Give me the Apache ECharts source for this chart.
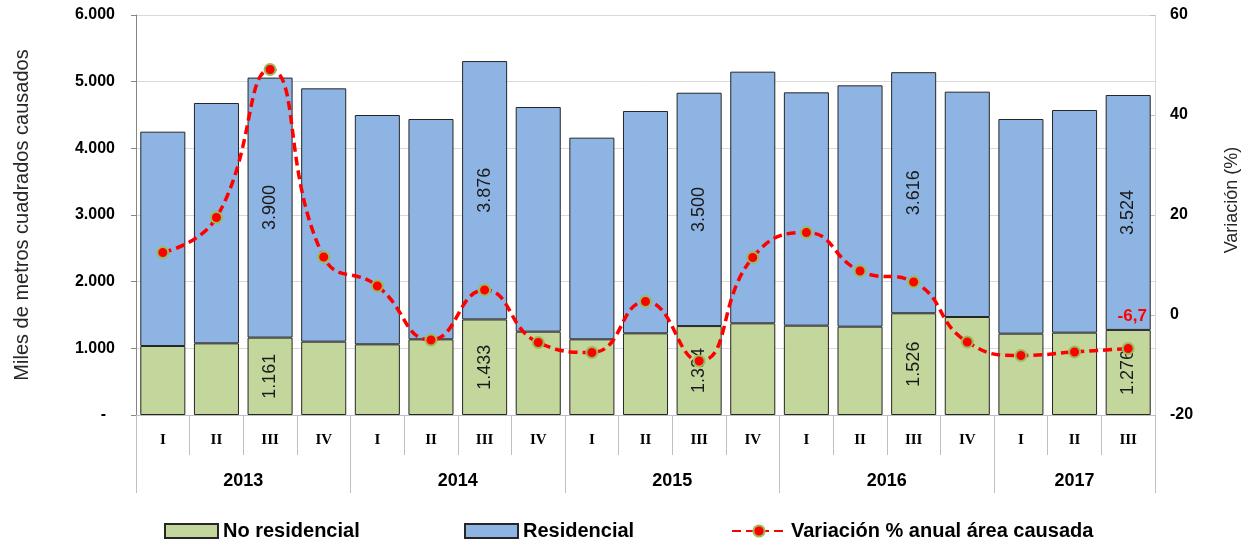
<!DOCTYPE html>
<html>
<head>
<meta charset="utf-8">
<title>Área causada</title>
<script src="https://cdn.jsdelivr.net/npm/echarts@6/dist/echarts.min.js"></script>
<style>
  html, body { margin: 0; padding: 0; background: #fff; }
  #chart { width: 1242px; height: 544px; }
</style>
</head>
<body>
<div id="chart"></div>
<script>
  // categorias (trimestres) y años
  var quarters = ['I', 'II', 'III', 'IV', 'I', 'II', 'III', 'IV', 'I', 'II', 'III', 'IV', 'I', 'II', 'III', 'IV', 'I', 'II', 'III']
  var years = ['2013', '2014', '2015', '2016', '2017']
  var quartersPerYear = [4, 4, 4, 4, 3]

  // miles de m2
  var noResidencial = [1035, 1075, 1161, 1100, 1060, 1135, 1433, 1250, 1135, 1225, 1334, 1375, 1340, 1325, 1526, 1470, 1220, 1235, 1276]
  var residencial = [3215, 3605, 3900, 3800, 3440, 3305, 3876, 3370, 3025, 3335, 3500, 3775, 3500, 3620, 3616, 3380, 3220, 3340, 3524]
  // variacion % anual
  var variacion = [12.5, 19.5, 49.1, 11.6, 5.8, -5.0, 5.0, -5.5, -7.5, 2.7, -9.2, 11.5, 16.5, 8.8, 6.6, -5.4, -8.1, -7.4, -6.7]

  // barras con etiqueta (trimestre III)
  var labeledIdx = [2, 6, 10, 14, 18]

  function fmt(v) {
    return String(v).replace(/\B(?=(\d{3})+(?!\d))/g, '.')
  }

  // eje de años: medias posiciones (boundaryGap false)
  var yearSlots = []
  var yearTicks = []
  var pos = 0
  for (var i = 0; i <= quarters.length * 2; i++) yearSlots.push('')
  years.forEach(function (y, k) {
    yearTicks.push(pos * 2)
    yearSlots[pos * 2 + quartersPerYear[k]] = y
    pos += quartersPerYear[k]
  })
  yearTicks.push(pos * 2)

  function barData(values) {
    return values.map(function (v, i) {
      if (labeledIdx.indexOf(i) >= 0) return { value: v, label: { show: true } }
      return v
    })
  }

  var lineData = variacion.map(function (v, i) {
    if (i === variacion.length - 1) return { value: v, label: { show: true } }
    return v
  })

  var sans = 'Liberation Sans, Arial, sans-serif'
  var legendText = { fontFamily: sans, fontWeight: 'bold', fontSize: 20, color: '#000' }
  var barLabel = {
    show: false,
    position: 'inside',
    rotate: 90,
    color: '#1a1a1a',
    fontSize: 18,
    fontFamily: sans,
    formatter: function (p) { return fmt(p.value) }
  }

  var chart = echarts.init(document.getElementById('chart'))
  chart.setOption({
    animation: false,
    grid: { left: 136, right: 87, top: 15, bottom: 129, containLabel: false, outerBoundsMode: 'none' },
    legend: [
      { data: ['No residencial'], icon: 'rect', left: 164, top: 521, padding: 0, itemWidth: 53, itemHeight: 14, textStyle: legendText },
      { data: ['Residencial'], icon: 'rect', left: 464, top: 521, padding: 0, itemWidth: 53, itemHeight: 14, textStyle: legendText },
      { data: ['Variación % anual área causada'], left: 731, top: 521, padding: 0, itemWidth: 54, itemHeight: 14, textStyle: legendText }
    ],
    xAxis: [
      {
        type: 'category',
        data: quarters,
        axisLine: { onZero: false, lineStyle: { color: '#bfbfbf' } },
        axisTick: { show: true, interval: 0, length: 40, lineStyle: { color: '#bfbfbf' } },
        axisLabel: {
          interval: 0, margin: 18, color: '#000',
          fontFamily: 'Liberation Serif, Times New Roman, serif', fontWeight: 'bold', fontSize: 15
        }
      },
      {
        type: 'category',
        data: yearSlots,
        position: 'bottom',
        offset: 0,
        boundaryGap: false,
        axisLine: { show: false, onZero: false },
        axisTick: {
          show: true,
          inside: false,
          length: 78,
          interval: function (index) { return yearTicks.indexOf(index) >= 0 },
          lineStyle: { color: '#bfbfbf' }
        },
        axisLabel: {
          margin: 57,
          interval: function (index, value) { return value !== '' },
          color: '#000', fontFamily: sans, fontWeight: 'bold', fontSize: 18
        }
      }
    ],
    yAxis: [
      {
        type: 'value',
        min: 0,
        max: 6000,
        interval: 1000,
        name: 'Miles de metros cuadrados causados',
        nameLocation: 'middle',
        nameGap: 104,
        nameRotate: 90,
        nameTextStyle: { fontFamily: sans, fontSize: 20, color: '#262626' },
        axisLine: { show: true, lineStyle: { color: '#868686' } },
        axisTick: { show: true, length: 5, lineStyle: { color: '#868686' } },
        splitLine: { lineStyle: { color: '#d9d9d9' } },
        axisLabel: {
          margin: 21, color: '#000', fontFamily: sans, fontWeight: 'bold', fontSize: 16,
          formatter: function (v) { return v === 0 ? '-  ' : fmt(v) }
        }
      },
      {
        type: 'value',
        min: -20,
        max: 60,
        interval: 20,
        name: 'Variación (%)',
        nameLocation: 'middle',
        nameGap: 68,
        nameRotate: 90,
        nameTextStyle: { fontFamily: sans, fontSize: 18, color: '#262626', padding: [0, 0, 0, 30] },
        axisLine: { show: true, lineStyle: { color: '#d9d9d9' } },
        axisTick: { show: true, inside: true, length: 5, lineStyle: { color: '#bfbfbf' } },
        splitLine: { show: false },
        axisLabel: { margin: 15, color: '#000', fontFamily: sans, fontWeight: 'bold', fontSize: 16 }
      }
    ],
    series: [
      {
        name: 'No residencial',
        type: 'bar',
        stack: 'area',
        barCategoryGap: '16%',
        itemStyle: { color: '#c3d69b', borderColor: '#262626', borderWidth: 1 },
        label: barLabel,
        data: barData(noResidencial)
      },
      {
        name: 'Residencial',
        type: 'bar',
        stack: 'area',
        barCategoryGap: '16%',
        itemStyle: { color: '#8eb4e3', borderColor: '#262626', borderWidth: 1 },
        label: barLabel,
        data: barData(residencial)
      },
      {
        name: 'Variación % anual área causada',
        type: 'line',
        yAxisIndex: 1,
        smooth: 0.5,
        symbol: 'circle',
        symbolSize: 11,
        itemStyle: { color: '#ff0000', borderColor: '#9bbb59', borderWidth: 2 },
        lineStyle: { color: '#ff0000', width: 3.5, type: [9, 5] },
        label: {
          show: false,
          position: 'top',
          offset: [4, -12],
          color: '#ff0000',
          fontFamily: sans,
          fontWeight: 'bold',
          fontSize: 17,
          formatter: function (p) { return p.value.toFixed(1).replace('.', ',') }
        },
        data: lineData,
        z: 5
      }
    ]
  })
</script>
</body>
</html>
